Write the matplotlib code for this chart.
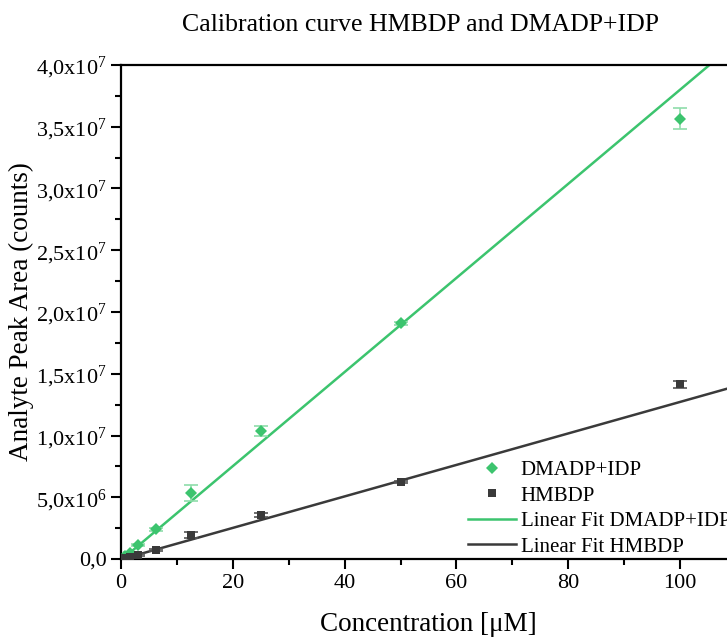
import numpy as np
import matplotlib
matplotlib.use("Agg")
import matplotlib.pyplot as plt
from matplotlib.ticker import FuncFormatter, MultipleLocator

plt.rcParams['font.family'] = ['Liberation Serif', 'DejaVu Serif']
plt.rcParams['mathtext.fontset'] = 'custom'
plt.rcParams['mathtext.rm'] = 'Liberation Serif'
plt.rcParams['mathtext.it'] = 'Liberation Serif:italic'

# concentrations (uM)
conc = [0.78, 1.56, 3.125, 6.25, 12.5, 25, 50, 100]
# DMADP+IDP peak areas and std
dmadp = [0.22e6, 0.5e6, 1.13e6, 2.4e6, 5.35e6, 10.35e6, 19.08e6, 35.65e6]
dmadp_err = [0.05e6, 0.08e6, 0.1e6, 0.12e6, 0.65e6, 0.4e6, 0.15e6, 0.85e6]
# HMBDP peak areas and std
hmbdp = [0.08e6, 0.16e6, 0.33e6, 0.74e6, 1.92e6, 3.57e6, 6.25e6, 14.15e6]
hmbdp_err = [0.03e6, 0.04e6, 0.06e6, 0.08e6, 0.25e6, 0.15e6, 0.1e6, 0.3e6]
# linear fit parameters (slope, intercept)
fit_dmadp = (3.81e5, -0.1e6)
fit_hmbdp = (1.275e5, -0.03e6)
x_fit = [0, 110]

green = "#3cc46e"
dark = "#3a3a3a"

fig = plt.figure(figsize=(7.27, 6.37), dpi=100)
ax = fig.add_axes([0.1664, 0.1224, 0.846, 0.7756])

xf = np.array(x_fit)
ax.plot(xf, fit_dmadp[0] * xf + fit_dmadp[1], color=green, lw=1.8, zorder=2)
ax.plot(xf, fit_hmbdp[0] * xf + fit_hmbdp[1], color=dark, lw=1.8, zorder=2)

ax.errorbar(conc, dmadp, yerr=dmadp_err, fmt='none', ecolor="#8fddaa",
            elinewidth=1.2, capsize=5, capthick=1.2, zorder=3)
ax.errorbar(conc, hmbdp, yerr=hmbdp_err, fmt='none', ecolor="#555555",
            elinewidth=1.2, capsize=5, capthick=1.2, zorder=3)
ax.plot(conc, dmadp, 'D', color=green, ms=6, mew=0, zorder=4)
ax.plot(conc, hmbdp, 's', color=dark, ms=6, mew=0, zorder=4)

# legend handles
h1, = ax.plot([], [], 'D', color=green, ms=6, mew=0, label="DMADP+IDP")
h2, = ax.plot([], [], 's', color=dark, ms=6, mew=0, label="HMBDP")
h3, = ax.plot([], [], color=green, lw=1.8, label="Linear Fit DMADP+IDP")
h4, = ax.plot([], [], color=dark, lw=1.8, label="Linear Fit HMBDP")
leg = ax.legend(handles=[h1, h2, h3, h4], loc='upper left',
                bbox_to_anchor=(0.63, 0.293), bbox_transform=fig.transFigure,
                frameon=False, fontsize=15, labelspacing=0.28,
                handlelength=2.3, handletextpad=0.2, borderpad=0)

ax.set_xlim(0, 110)
ax.set_ylim(0, 4e7)
ax.xaxis.set_major_locator(MultipleLocator(20))
ax.xaxis.set_minor_locator(MultipleLocator(10))
ax.yaxis.set_major_locator(MultipleLocator(5e6))
ax.yaxis.set_minor_locator(MultipleLocator(2.5e6))


def yfmt(v, pos):
    if v == 0:
        return "0,0"
    e = int(np.floor(np.log10(abs(v))))
    m = v / 10 ** e
    return ("%.1f" % m).replace(".", ",") + "x10$^{%d}$" % e


ax.yaxis.set_major_formatter(FuncFormatter(yfmt))
ax.tick_params(which='major', direction='out', length=7, width=1.5, labelsize=16)
ax.tick_params(which='minor', direction='out', length=4, width=1.5)
for s in ax.spines.values():
    s.set_linewidth(1.6)

ax.set_xlabel("Concentration [μM]", fontsize=19.5, labelpad=14)
ax.set_ylabel("Analyte Peak Area (counts)", fontsize=19.5, labelpad=1)
fig.text(0.578, 0.96, "Calibration curve HMBDP and DMADP+IDP", fontsize=18.6,
         ha='center', va='center')

fig.savefig("out.png", dpi=100)
